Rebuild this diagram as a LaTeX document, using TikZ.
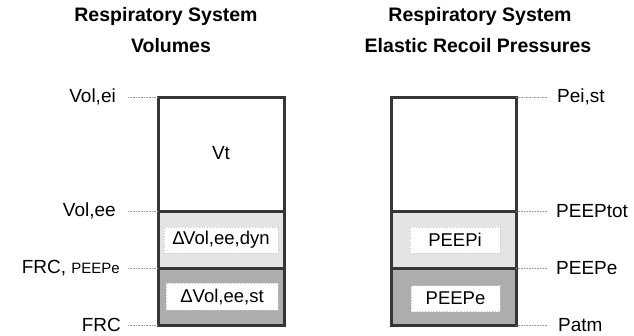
\documentclass[tikz,border=0pt]{standalone}
\usepackage{fontspec}
\setmainfont{Liberation Sans}
\definecolor{frame}{HTML}{363636}
\definecolor{lightband}{HTML}{E4E4E4}
\definecolor{darkband}{HTML}{ADADAD}
\definecolor{leader}{HTML}{9A9A9A}
\definecolor{innerline}{HTML}{C8C8C8}
\begin{document}
\begin{tikzpicture}[x=1pt,y=-1pt,
  title/.style={font=\fontsize{19.5}{21}\selectfont\bfseries, inner sep=0pt},
  lbl/.style={font=\fontsize{19}{21}\selectfont, inner sep=0pt},
  frameline/.style={draw=frame, line width=3pt},
  leaderline/.style={draw=leader, line width=1pt, dash pattern=on 1pt off 0.6pt},
  innerbox/.style={draw=innerline, fill=white, dotted, line width=0.8pt, minimum height=26pt, inner sep=0pt, font=\fontsize{18.5}{20}\selectfont}]
\useasboundingbox (0,0) rectangle (634,335);
% titles
\node[title] (t1a) at (166,16) {Respiratory System};
\node[title] (t1b) at (171,46) {Volumes};
\node[title] (t2a) at (480,16) {Respiratory System};
\node[title] (t2b) at (478,46) {Elastic Recoil Pressures};
% left box
\coordinate (L1) at (158,97);  \coordinate (L1r) at (284,97);
\coordinate (L2) at (158,211); \coordinate (L2r) at (284,211);
\coordinate (L3) at (158,268); \coordinate (L3r) at (284,268);
\coordinate (L4) at (158,325); \coordinate (L4r) at (284,325);
\fill[lightband] (L2) rectangle (L3r);
\fill[darkband] (L3) rectangle (L4r);
\draw[frameline] (L1) rectangle (L4r);
\draw[frameline] (L2) -- (L2r);
\draw[frameline] (L3) -- (L3r);
\node[lbl] (vt) at (221,153) {Vt};
\node[innerbox, minimum width=114pt] (dyn) at (221,240) {Δ\kern-1.5ptVol,ee,dyn};
\node[innerbox, minimum width=112pt, minimum height=27pt] (st) at (222,296.5) {ΔVol,ee,st};
% left leaders and labels
\coordinate (la1) at (128,97);
\coordinate (la2) at (128,211);
\coordinate (la3) at (128,268);
\coordinate (la4) at (128,325);
\draw[leaderline] (la1) -- (L1);
\draw[leaderline] (la2) -- (L2);
\draw[leaderline] (la3) -- (L3);
\draw[leaderline] (la4) -- (L4);
\node[lbl, anchor=east] (volei) at (116,97) {Vol,ei};
\node[lbl, anchor=east] (volee) at (116,211) {Vol,ee};
\node[lbl, anchor=east] (frcp) at (120,268) {FRC, {\fontsize{15}{17}\selectfont PEEPe}};
\node[lbl, anchor=east] (frc) at (121,325) {FRC};
% right box
\coordinate (R1) at (391,97);  \coordinate (R1r) at (516,97);
\coordinate (R2) at (391,211); \coordinate (R2r) at (516,211);
\coordinate (R3) at (391,268); \coordinate (R3r) at (516,268);
\coordinate (R4) at (391,325); \coordinate (R4r) at (516,325);
\fill[lightband] (R2) rectangle (R3r);
\fill[darkband] (R3) rectangle (R4r);
\draw[frameline] (R1) rectangle (R4r);
\draw[frameline] (R2) -- (R2r);
\draw[frameline] (R3) -- (R3r);
\node[innerbox, minimum width=90pt] (peepi) at (455,240) {PEEPi};
\node[innerbox, minimum width=89pt] (peepe) at (455.5,298.5) {PEEPe};
% right leaders and labels
\coordinate (ra1) at (548,97);
\coordinate (ra2) at (548,211);
\coordinate (ra3) at (548,268);
\coordinate (ra4) at (548,325);
\draw[leaderline] (R1r) -- (ra1);
\draw[leaderline] (R2r) -- (ra2);
\draw[leaderline] (R3r) -- (ra3);
\draw[leaderline] (R4r) -- (ra4);
\node[lbl, anchor=west] (peist) at (557,97) {Pei,st};
\node[lbl, anchor=west] (peeptot) at (556,211) {PEEPtot};
\node[lbl, anchor=west] (peepel) at (556,268) {PEEPe};
\node[lbl, anchor=west] (patm) at (558,325) {Patm};
\end{tikzpicture}
\end{document}
